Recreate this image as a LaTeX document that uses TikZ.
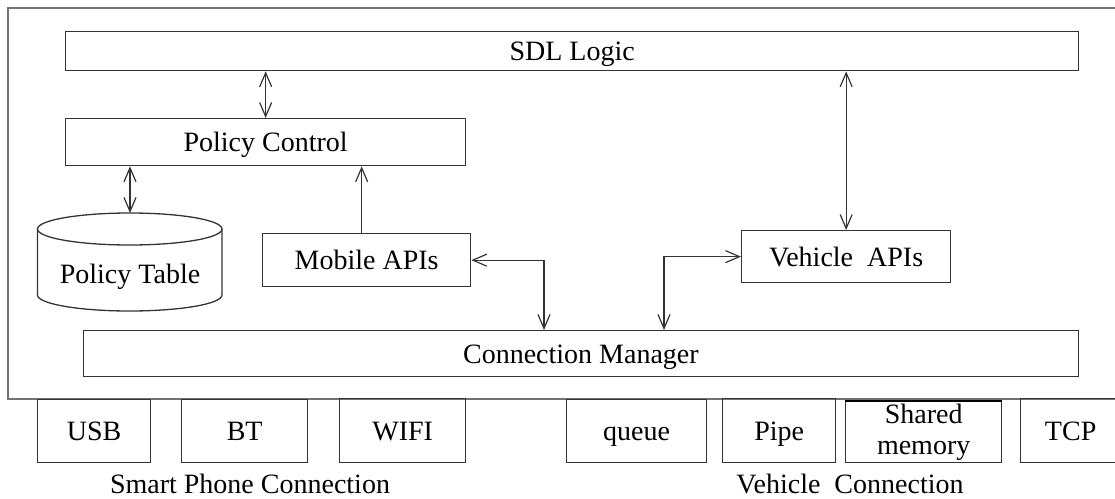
\documentclass[tikz,border=0pt]{standalone}
\usepackage{fontspec}
\setmainfont{Liberation Serif}
\usetikzlibrary{arrows.meta}
\begin{document}
\begin{tikzpicture}[x=1pt,y=-1pt,
  box/.style={draw=black!80, line width=1.3pt, rectangle, inner sep=0pt, anchor=north west,
    font=\fontsize{28}{34}\selectfont, align=center, text height=22pt, text depth=3pt},
  mbox/.style={draw=black!80, line width=1.3pt, rectangle, inner sep=0pt, anchor=north west,
    font=\fontsize{28}{34}\selectfont, align=center},
  arr/.style={draw=black!80, line width=1.2pt, arrows={Straight Barb[length=14pt,width=12pt,line width=1.2pt]-Straight Barb[length=14pt,width=12pt,line width=1.2pt]}},
  arrone/.style={draw=black!80, line width=1.2pt, -{Straight Barb[length=14pt,width=12pt,line width=1.2pt]}},
  lbl/.style={font=\fontsize{28}{34}\selectfont, inner sep=0pt, text height=22pt, text depth=3pt}]
\useasboundingbox (0,0) rectangle (1115,498);
\begin{scope}
\clip (0,0) rectangle (1115,498);
% outer frame
\draw[black!55, line width=1.5pt] (8,8) rectangle (1140,399);
% top boxes
\node[box, minimum width=1013pt, minimum height=39pt] (sdl) at (65,31) {SDL Logic};
\node[box, minimum width=400pt, minimum height=47pt] (pc) at (65,118) {Policy Control};
\node[box, minimum width=208pt, minimum height=53pt] (mob) at (262,233) {Mobile APIs};
\node[box, minimum width=209pt, minimum height=52pt] (veh) at (741,230) {Vehicle\ \ APIs};
\node[box, minimum width=995.5pt, minimum height=46pt] (cm) at (82.5,330) {Connection Manager};
% cylinder
\draw[black!80, line width=1.3pt] (37.5,229) arc[x radius=92.25pt, y radius=16pt, start angle=180, end angle=-180];
\draw[black!80, line width=1.3pt] (37.5,229) -- (37.5,295) arc[x radius=92.25pt, y radius=16pt, start angle=180, end angle=360] -- (222,229);
\coordinate (pttop) at (130,213);
\node[lbl] (pt) at (130,274) {Policy Table};
% bottom boxes
\node[box, minimum width=113pt, minimum height=63pt] (usb) at (37,399) {USB};
\node[box, minimum width=126pt, minimum height=63pt] (bt) at (181,399) {BT};
\node[box, minimum width=126pt, minimum height=64pt] (wifi) at (339,398) {WIFI};
\node[box, minimum width=140pt, minimum height=63pt] (queue) at (566,399) {queue};
\node[box, minimum width=113pt, minimum height=64pt] (pipe) at (722,398) {Pipe};
\node[mbox, minimum width=156pt, minimum height=61pt] (shm) at (845,401) {\raisebox{-3pt}{Shared}\\memory};
\draw[black, line width=2pt] (shm.north west) -- (shm.north east);
\node[box, minimum width=100pt, minimum height=64pt] (tcp) at (1020,398) {TCP};
\node[lbl] (spc) at (250,484) {Smart Phone Connection};
\node[lbl] (vc) at (850,484) {Vehicle\ \ Connection};
% connectors
\draw[arr] (pc.north) -- (pc.north |- sdl.south);
\draw[arr] (pttop) -- (pttop |- pc.south);
\draw[arrone] ([xshift=-5pt]mob.north) -- ([xshift=-5pt]mob.north |- pc.south);
\coordinate (mj) at (544,261);
\draw[arr] (mob.east) -| (cm.north -| mj);
\coordinate (vj) at (664,256);
\draw[arr] (veh.west) -| (cm.north -| vj);
\draw[arr] (veh.north) -- (veh.north |- sdl.south);
\end{scope}
\end{tikzpicture}
\end{document}
